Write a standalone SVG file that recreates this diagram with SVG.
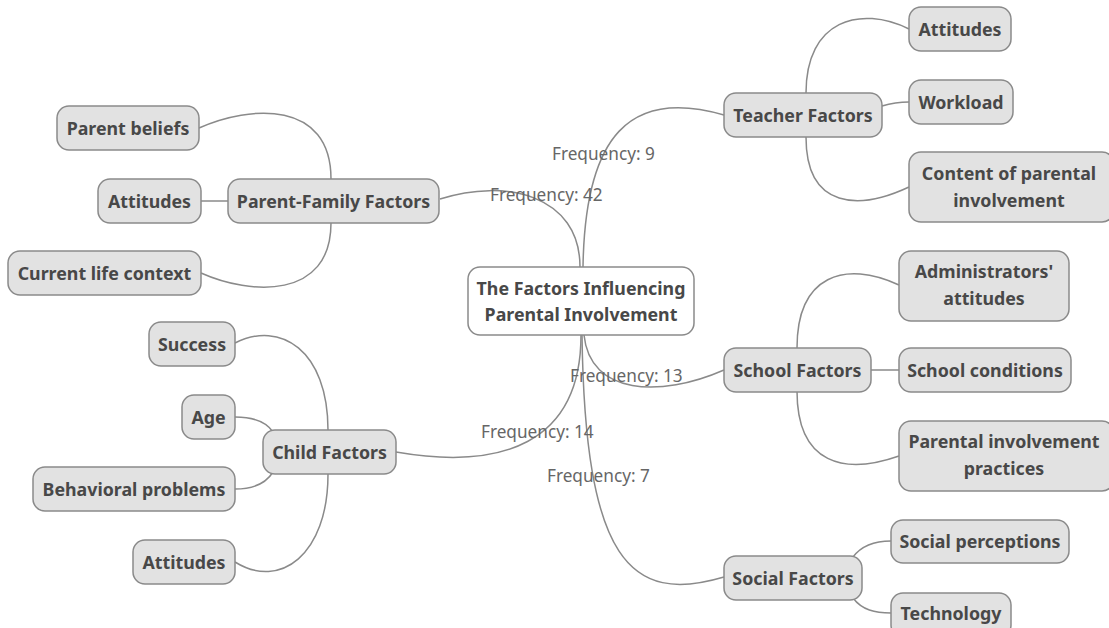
<svg xmlns="http://www.w3.org/2000/svg" width="1109" height="628" viewBox="0 0 1109 628">
<style>
.n rect{fill:#e2e2e2;stroke:#8a8a8a;stroke-width:1.5}
.root rect{fill:#ffffff;stroke:#8a8a8a;stroke-width:1.5}
text{font-family:"Noto Sans","Open Sans","DejaVu Sans",sans-serif}
.n text,.root text{font-size:17.8px;font-weight:bold;fill:#484848;text-anchor:middle}
.c path{fill:none;stroke:#8a8a8a;stroke-width:1.5}
.lbl{font-size:17.2px;fill:#666}
</style>
<rect width="1109" height="628" fill="#ffffff"/>
<g class="c" id="connectors">
<path d="M580 267 C580 195 505 178 440 199"/>
<path d="M583 267 C585 135 630 88 724 115"/>
<path d="M581 335 C581 445 500 470 396 452"/>
<path d="M584 335 C590 395 660 398 724 370"/>
<path d="M582 335 C585 560 630 605 724 577"/>
<path d="M331 179 C331 100 250 105 199 128"/>
<path d="M228 201 H201"/>
<path d="M331 223 C331 300 250 295 201 273"/>
<path d="M806 93 C806 20 860 5 909 29"/>
<path d="M882 106 C892 103 900 102 909 102"/>
<path d="M806 137 C806 210 860 210 909 187"/>
<path d="M797 348 C797 275 845 260 899 285"/>
<path d="M871 370 H899"/>
<path d="M797 391 C797 465 845 475 899 456"/>
<path d="M853 557 C862 545 875 541 891 541"/>
<path d="M853 598 C862 610 875 613 891 613"/>
<path d="M328 430 C328 350 280 320 235 343"/>
<path d="M273 432 C265 420 250 417 235 417"/>
<path d="M273 472 C265 485 250 489 235 489"/>
<path d="M328 474 C328 555 280 590 235 562"/>
</g>
<g id="labels">
<text class="lbl" x="552" y="160">Frequency: 9</text>
<text class="lbl" x="490" y="201">Frequency: 42</text>
<text class="lbl" x="570" y="382">Frequency: 13</text>
<text class="lbl" x="481" y="438">Frequency: 14</text>
<text class="lbl" x="547" y="482">Frequency: 7</text>
</g>
<g class="root" id="root"><rect x="468" y="267" width="226" height="68" rx="12"/><text x="581" y="294.5">The Factors Influencing</text><text x="581" y="320.5">Parental Involvement</text></g>
<g class="n" id="parent-family"><rect x="228" y="179" width="211" height="44" rx="12"/><text x="333.5" y="207.5">Parent-Family Factors</text></g>
<g class="n" id="parent-beliefs"><rect x="57" y="106" width="142" height="44" rx="12"/><text x="128" y="134.5">Parent beliefs</text></g>
<g class="n" id="pf-attitudes"><rect x="98" y="179" width="103" height="44" rx="12"/><text x="149.5" y="207.5">Attitudes</text></g>
<g class="n" id="current-life"><rect x="8" y="251" width="193" height="44" rx="12"/><text x="104.5" y="279.5">Current life context</text></g>
<g class="n" id="teacher"><rect x="724" y="93" width="158" height="44" rx="12"/><text x="803" y="121.5">Teacher Factors</text></g>
<g class="n" id="t-attitudes"><rect x="909" y="7" width="102" height="44" rx="12"/><text x="960" y="35.5">Attitudes</text></g>
<g class="n" id="workload"><rect x="909" y="80" width="104" height="44" rx="12"/><text x="961" y="108.5">Workload</text></g>
<g class="n" id="content"><rect x="909" y="152" width="205" height="70" rx="12"/><text x="1009" y="179.5">Content of parental</text><text x="1009" y="206.5">involvement</text></g>
<g class="n" id="school"><rect x="724" y="348" width="147" height="44" rx="12"/><text x="797.5" y="376.5">School Factors</text></g>
<g class="n" id="admin"><rect x="899" y="251" width="170" height="70" rx="12"/><text x="984" y="277.5">Administrators'</text><text x="984" y="304.5">attitudes</text></g>
<g class="n" id="conditions"><rect x="899" y="348" width="172" height="44" rx="12"/><text x="985" y="376.5">School conditions</text></g>
<g class="n" id="practices"><rect x="899" y="421" width="215" height="70" rx="12"/><text x="1004" y="447.5">Parental involvement</text><text x="1004" y="474.5">practices</text></g>
<g class="n" id="social"><rect x="724" y="556" width="138" height="44" rx="12"/><text x="793" y="584.5">Social Factors</text></g>
<g class="n" id="perceptions"><rect x="891" y="520" width="178" height="43" rx="12"/><text x="980" y="547.5">Social perceptions</text></g>
<g class="n" id="technology"><rect x="891" y="593" width="120" height="44" rx="12"/><text x="951" y="619.5">Technology</text></g>
<g class="n" id="child"><rect x="263" y="430" width="133" height="44" rx="12"/><text x="329.5" y="458.5">Child Factors</text></g>
<g class="n" id="success"><rect x="149" y="322" width="86" height="44" rx="12"/><text x="192" y="350.5">Success</text></g>
<g class="n" id="age"><rect x="182" y="395" width="53" height="44" rx="12"/><text x="208.5" y="423.5">Age</text></g>
<g class="n" id="behavioral"><rect x="33" y="467" width="202" height="44" rx="12"/><text x="134" y="495.5">Behavioral problems</text></g>
<g class="n" id="c-attitudes"><rect x="133" y="540" width="102" height="44" rx="12"/><text x="184" y="568.5">Attitudes</text></g>
</svg>
